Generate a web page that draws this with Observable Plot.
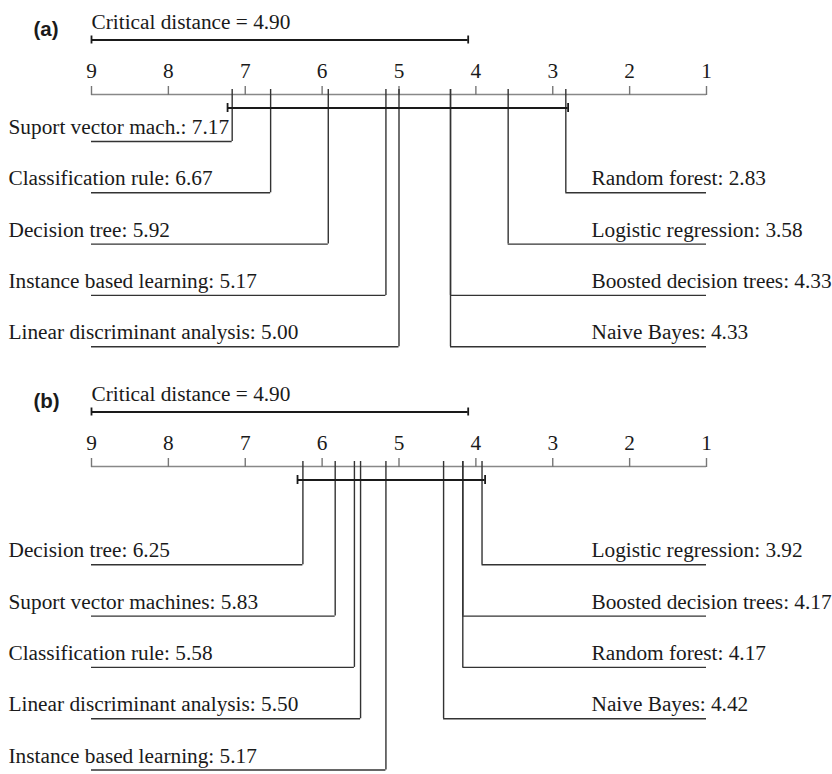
<!DOCTYPE html>
<html>
<head>
<meta charset="utf-8">
<script src="https://cdn.jsdelivr.net/npm/d3@7"></script>
<script src="https://cdn.jsdelivr.net/npm/@observablehq/plot@0.6"></script>
<style>
  html, body { margin: 0; padding: 0; background: #fff; overflow: hidden; }
  #chart { width: 832px; }
  #chart svg { display: block; }
</style>
</head>
<body>
<div id="chart"></div>
<script>
// ---- data ----
const tickValues = [9, 8, 7, 6, 5, 4, 3, 2, 1];
const criticalDistance = 4.90;
const panelLabels = ["(a)", "(b)"];

// panel (a): first five are drawn on the left (worst first), the rest on the right (best first)
const methodsA = ["Suport vector mach.", "Classification rule", "Decision tree", "Instance based learning", "Linear discriminant analysis",
                  "Random forest", "Logistic regression", "Boosted decision trees", "Naive Bayes"];
const ranksA = [7.17, 6.67, 5.92, 5.17, 5.00, 2.83, 3.58, 4.33, 4.33];
const cliqueA = [7.23, 2.80];

// panel (b)
const methodsB = ["Decision tree", "Suport vector machines", "Classification rule", "Linear discriminant analysis", "Instance based learning",
                  "Logistic regression", "Boosted decision trees", "Random forest", "Naive Bayes"];
const ranksB = [6.25, 5.83, 5.58, 5.50, 5.17, 3.92, 4.17, 4.17, 4.42];
const cliqueB = [6.32, 3.88];

// ---- layout ----
const serif = "Liberation Serif";
const sans = "Liberation Sans";
const ink = "#1a1a1a";

function panel(label, methods, ranks, clique, leftStart, height) {
  const axisY = 94, row0 = 141, rowStep = 51.3;
  const items = methods.map((name, i) => ({name, rank: ranks[i]}));
  const nLeft = 5;
  const left = items.slice(0, nLeft).map((d, i) => ({...d, y: row0 + (leftStart + i) * rowStep}));
  const right = items.slice(nLeft).map((d, i) => ({...d, y: row0 + (1 + i) * rowStep}));
  const all = left.concat(right);
  const fmt = d => `${d.name}: ${d.rank.toFixed(2)}`;
  const cdEnd = 9 - criticalDistance;

  return Plot.plot({
    width: 832,
    height,
    marginTop: axisY,
    marginLeft: 91,
    marginRight: 126,
    marginBottom: 0,
    x: {domain: [9, 1], range: [91, 706]},
    y: {type: "identity", axis: null},
    style: {fontSize: "21px", color: ink, background: "#fff", overflow: "visible"},
    marks: [
      // panel label
      Plot.text([label], {x: 9, dx: -58, y: 35, text: d => d, textAnchor: "start", lineAnchor: "bottom",
        fontFamily: sans, fontWeight: "bold", fontSize: 20.5, fill: ink}),
      // critical distance
      Plot.text([criticalDistance], {x: 9, y: 28, text: d => `Critical distance = ${d.toFixed(2)}`,
        textAnchor: "start", lineAnchor: "bottom", fontFamily: serif, fontSize: 21.3, fill: ink}),
      Plot.ruleY([criticalDistance], {x1: 9, x2: cdEnd, y: 39.5, stroke: ink, strokeWidth: 1.8}),
      Plot.ruleX([9, cdEnd], {x: d => d, y1: 35.5, y2: 43.5, stroke: ink, strokeWidth: 1.8}),
      // axis
      Plot.ruleY([axisY], {x1: 9, x2: 1, y: d => d, stroke: "#888", strokeWidth: 1.7}),
      Plot.axisX(tickValues, {anchor: "top", tickSize: 9, tickPadding: 8, tickFormat: d => String(d),
        stroke: "#777", strokeWidth: 1.4, fill: ink, fontFamily: serif, fontSize: 21.3, label: null}),
      // connector lines
      Plot.ruleX(all, {x: "rank", y1: 89, y2: "y", stroke: "#333", strokeWidth: 1.4}),
      Plot.ruleY(left, {x1: 9, x2: "rank", y: "y", stroke: "#333", strokeWidth: 1.4}),
      Plot.ruleY(right, {x1: "rank", x2: 1, y: "y", stroke: "#333", strokeWidth: 1.4}),
      // clique bar
      Plot.ruleY([clique], {x1: d => d[0], x2: d => d[1], y: 107.5, stroke: ink, strokeWidth: 1.8}),
      Plot.ruleX(clique, {x: d => d, y1: 103, y2: 112, stroke: ink, strokeWidth: 1.8}),
      // labels
      Plot.text(left, {x: 9, dx: -83, y: d => d.y - 7.5, text: fmt, textAnchor: "start", lineAnchor: "bottom", fontFamily: serif, fontSize: 21.3, fill: ink}),
      Plot.text(right, {x: 1, dx: -115, y: d => d.y - 7.5, text: fmt, textAnchor: "start", lineAnchor: "bottom", fontFamily: serif, fontSize: 21.3, fill: ink})
    ]
  });
}

const chart = document.getElementById("chart");
chart.appendChild(panel(panelLabels[0], methodsA, ranksA, cliqueA, 0, 372));
chart.appendChild(panel(panelLabels[1], methodsB, ranksB, cliqueB, 1, 402));
</script>
</body>
</html>
